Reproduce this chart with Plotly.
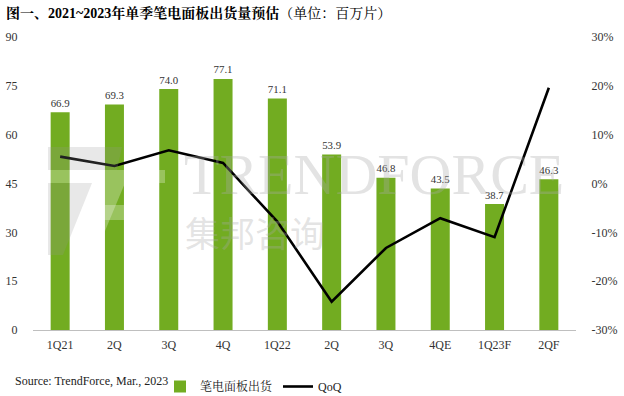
import plotly.graph_objects as go

categories = ["1Q21", "2Q", "3Q", "4Q", "1Q22", "2Q ", "3Q ", "4QE", "1Q23F", "2QF"]
tick_text = ["1Q21", "2Q", "3Q", "4Q", "1Q22", "2Q", "3Q", "4QE", "1Q23F", "2QF"]
shipments = [66.9, 69.3, 74.0, 77.1, 71.1, 53.9, 46.8, 43.5, 38.7, 46.3]
qoq = [5.5, 3.6, 6.8, 4.2, -7.8, -24.2, -13.2, -7.1, -11.0, 19.6]

W, H = 624, 396
L, R, T, B = 33, 48, 37, 66
PW, PH = W - L - R, H - T - B

def px(x):
    return (x - L) / PW

def py(y):
    return (H - B - y) / PH

SERIF = "Liberation Serif, Times New Roman, Noto Serif CJK SC, Noto Sans CJK SC, serif"
GREEN = "#72AC21"

fig = go.Figure()
fig.add_trace(go.Bar(
    x=categories, y=shipments, name="笔电面板出货",
    marker=dict(color=GREEN, line=dict(width=0)),
    text=[f"{v:.1f}" for v in shipments], textposition="outside",
    textfont=dict(family=SERIF, size=13, color="#333333"),
    cliponaxis=False, yaxis="y",
))
fig.add_trace(go.Scatter(
    x=categories, y=qoq, name="QoQ", mode="lines",
    line=dict(color="black", width=2.6), yaxis="y2",
))

def poly(pts, color):
    path = "M " + " L ".join(f"{px(a):.4f},{py(b):.4f}" for a, b in pts) + " Z"
    return dict(type="path", xref="paper", yref="paper", path=path,
                fillcolor=color, line=dict(width=0), layer="above")

shapes = [
    poly([(48, 147), (122, 147), (117, 170), (48, 170)], "rgba(150,150,150,0.22)"),
    poly([(48, 183), (92, 183), (63, 255), (48, 255)], "rgba(150,150,150,0.22)"),
    poly([(50, 170), (165, 170), (165, 183), (50, 183)], "rgba(255,255,255,0.28)"),
    poly([(100, 183), (125, 183), (95, 255), (80, 255)], "rgba(255,255,255,0.28)"),
    poly([(98, 205), (152, 205), (150, 220), (96, 220)], "rgba(255,255,255,0.28)"),
]

annotations = [
    dict(text="<b>图一、2021~2023年单季笔电面板出货量预估</b>（单位：百万片）",
         xref="paper", yref="paper", x=px(4), y=py(13), xanchor="left", yanchor="middle",
         showarrow=False, font=dict(family=SERIF, size=14, color="black")),
    dict(text="Source: TrendForce, Mar., 2023", xref="paper", yref="paper",
         x=px(13), y=py(381), xanchor="left", yanchor="middle", showarrow=False,
         font=dict(family=SERIF, size=12, color="#222222")),
    dict(text="TRENDFORCE", xref="paper", yref="paper", x=px(182), y=py(174),
         xanchor="left", yanchor="middle", showarrow=False,
         font=dict(family=SERIF, size=58, color="rgba(170,170,170,0.33)")),
    dict(text="集邦咨询", xref="paper", yref="paper", x=px(183), y=py(231),
         xanchor="left", yanchor="middle", showarrow=False,
         font=dict(family="Noto Sans CJK SC", size=35, color="rgba(170,170,170,0.33)")),
]

fig.update_layout(
    width=W, height=H,
    margin=dict(l=L, r=R, t=T, b=B, pad=0, autoexpand=False),
    paper_bgcolor="white", plot_bgcolor="white",
    bargap=0.65,
    showlegend=True,
    legend=dict(orientation="h", x=px(160), y=py(372), xanchor="left", yanchor="top",
                font=dict(family=SERIF + ", Noto Sans CJK SC", size=12, color="#222222"),
                itemwidth=30, tracegroupgap=0, bgcolor="rgba(0,0,0,0)"),
    xaxis=dict(tickmode="array", tickvals=categories, ticktext=tick_text,
               showgrid=False, showline=True, linecolor="#BFBFBF", linewidth=1,
               ticks="outside", ticklen=4, tickcolor="rgba(0,0,0,0)",
               tickfont=dict(family=SERIF, size=12, color="#333333"),
               zeroline=False),
    yaxis=dict(range=[0, 90], tickvals=[0, 15, 30, 45, 60, 75, 90], showgrid=False,
               zeroline=False, showline=False, ticks="outside", ticklen=12,
               tickcolor="rgba(0,0,0,0)",
               tickfont=dict(family=SERIF, size=12, color="#333333")),
    yaxis2=dict(range=[-30, 30], tickvals=[-30, -20, -10, 0, 10, 20, 30],
                ticktext=["-30%", "-20%", "-10%", "0%", "10%", "20%", "30%"],
                overlaying="y", side="right", showgrid=False, zeroline=False,
                showline=False, ticks="outside", ticklen=12, tickcolor="rgba(0,0,0,0)",
                tickfont=dict(family=SERIF, size=12, color="#333333")),
    shapes=shapes,
    annotations=annotations,
)

fig.write_html("out.html", config={"displayModeBar": False},
               post_script="document.body.style.margin='0';document.body.style.padding='0';")
